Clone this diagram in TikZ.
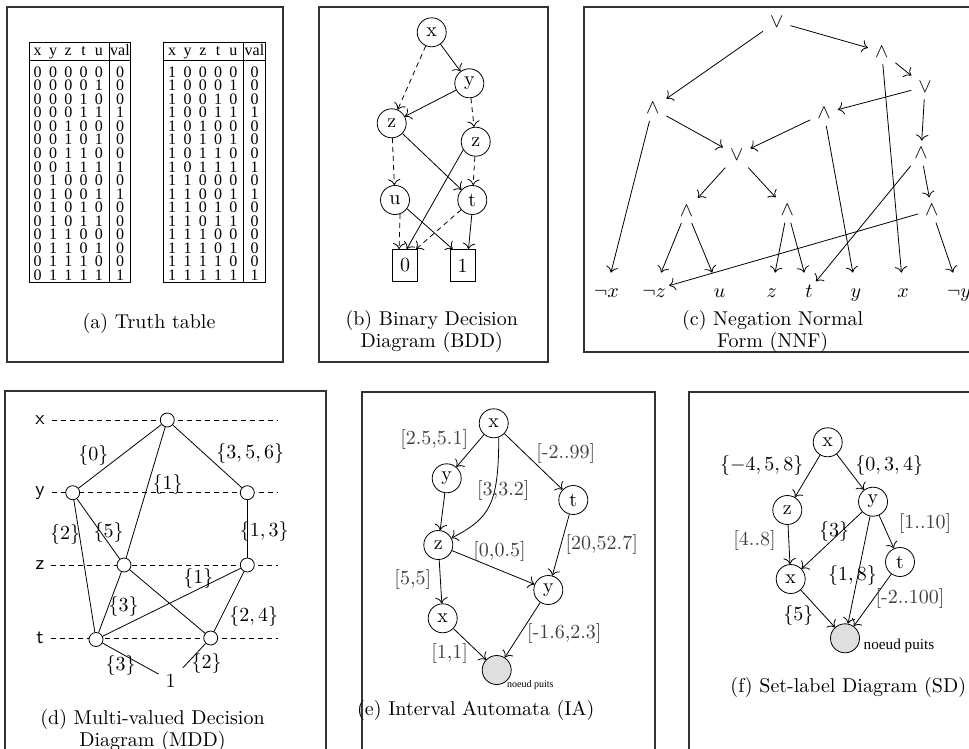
\documentclass[tikz,border=0pt]{standalone}
\usepackage{fontspec}
\newfontfamily\tabfont{Liberation Serif}
\usetikzlibrary{arrows.meta,calc}
\begin{document}
\begin{tikzpicture}[x=0.5pt, y=-0.5pt,
  panel/.style={draw=black!80, line width=0.6pt},
  capt/.style={align=center, font=\fontsize{10}{11}\selectfont},
  arr/.style={-{To[scale=1.2]}},
  dsh/.style={dash pattern=on 2.5pt off 2pt},
  bn/.style={circle, draw, fill=white, minimum size=14.5pt, inner sep=0pt},
  sinknode/.style={circle, draw, fill=gray!25, minimum size=14.5pt, inner sep=0pt},
  term/.style={draw, minimum width=12.5pt, minimum height=16pt, inner sep=0pt},
  mn/.style={circle, draw, fill=white, minimum size=7pt, inner sep=0pt},
  lvl/.style={font=\sffamily},
  op/.style={inner sep=3.33pt},
  leaf/.style={anchor=base, text height=9pt, text depth=2pt, inner xsep=1.5pt, inner ysep=3pt},
  tab/.style={font=\tabfont\fontsize{8}{8.5}\selectfont, inner sep=0pt, anchor=base},
  lab/.style={font=\fontsize{10}{12}\selectfont},
  ilab/.style={lab, text=black!75},
  np/.style={anchor=west, inner sep=0pt}
]
\useasboundingbox (0,0) rectangle (969,749);
\clip (0,0) rectangle (969,749);

% ---------- frames ----------
\draw[panel] (7,7) rectangle (283,362);
\draw[panel] (319,7) rectangle (548,362);
\draw[panel] (584,7) rectangle (985,352);
\draw[panel] (5,391) rectangle (326,770);
\draw[panel] (362,392) rectangle (655,770);
\draw[panel] (689,392) rectangle (985,770);

% ---------- (a) truth tables ----------
\foreach \dx/\tn/\xv in {0/ta/0, 134.5/tb/1} {
  \draw[line width=0.5pt] ({29.3+\dx},42.7) rectangle ({130.7+\dx},282.3);
  \draw[line width=0.5pt] ({29.3+\dx},61) -- ({130.7+\dx},61);
  \draw[line width=0.5pt] ({109.3+\dx},42.7) -- ({109.3+\dx},282.3);
  \node[tab] (\tn-h-1) at ({37.7+\dx},55.5) {x};
  \node[tab] (\tn-h-2) at ({53+\dx},55.5) {y};
  \node[tab] (\tn-h-3) at ({68.3+\dx},55.5) {z};
  \node[tab] (\tn-h-4) at ({83.6+\dx},55.5) {t};
  \node[tab] (\tn-h-5) at ({98.9+\dx},55.5) {u};
  \node[tab] (\tn-h-v) at ({120+\dx},55.5) {val};
  \foreach \r/\v in {0/0,1/0,2/0,3/1,4/0,5/0,6/0,7/1,8/0,9/1,10/0,11/0,12/0,13/0,14/0,15/1} {
    \pgfmathtruncatemacro\by{floor(\r/8)}
    \pgfmathtruncatemacro\bz{mod(floor(\r/4),2)}
    \pgfmathtruncatemacro\bt{mod(floor(\r/2),2)}
    \pgfmathtruncatemacro\bu{mod(\r,2)}
    \pgfmathsetmacro\yy{77.2+\r*13.55}
    \node[tab] (\tn-\r-1) at ({37.7+\dx},\yy) {\xv};
    \node[tab] (\tn-\r-2) at ({53+\dx},\yy) {\by};
    \node[tab] (\tn-\r-3) at ({68.3+\dx},\yy) {\bz};
    \node[tab] (\tn-\r-4) at ({83.6+\dx},\yy) {\bt};
    \node[tab] (\tn-\r-5) at ({98.9+\dx},\yy) {\bu};
    \node[tab] (\tn-\r-v) at ({120+\dx},\yy) {\v};
  }
}
\node[capt] (capa) at (149,323.3) {(a) Truth table};

% ---------- (b) BDD ----------
\node[bn] (bx) at (431.7,32.3) {x};
\node[bn] (by) at (469.3,83.3) {y};
\node[bn] (bzl) at (391.7,123.3) {z};
\node[bn] (bzr) at (475.7,141.7) {z};
\node[bn] (bu) at (395,200) {u};
\node[bn] (bt) at (472.3,200) {t};
\node[term] (b0) at (405,265.5) {0};
\node[term] (b1) at (462.5,265.5) {1};
\draw[arr,dsh] (bx) -- (bzl);
\draw[arr] (bx) -- (by);
\draw[arr] (by) -- (bzl);
\draw[arr,dsh] (by) -- (bzr);
\draw[arr,dsh] (bzl) -- (bu);
\draw[arr] (bzl) -- (bt);
\draw[arr,dsh] (bzr) -- (bt);
\draw[arr] (bzr.213) -- (b0.84);
\draw[arr,dsh] (bu.290) -- (b0.110);
\draw[arr] (bu.324) -- (b1.121);
\draw[arr,dsh] (bt.221) -- (b0.56);
\draw[arr] (bt.268) -- (b1.70);
\node[capt] (capb) at (431.7,331) {(b) Binary Decision\\Diagram (BDD)};

% ---------- (c) NNF ----------
\node[op] (r0) at (776.7,21.7) {$\vee$};
\node[op] (a1) at (881.7,51.7) {$\wedge$};
\node[op] (o2) at (925,86.7) {$\vee$};
\node[op] (a3) at (652.7,108.3) {$\wedge$};
\node[op] (a4) at (824,113.3) {$\wedge$};
\node[op] (o5) at (736.7,155) {$\vee$};
\node[op] (a6) at (921,153.3) {$\wedge$};
\node[op] (a7) at (686.5,210.5) {$\wedge$};
\node[op] (a8) at (787.3,210) {$\wedge$};
\node[op] (a9) at (931.7,210) {$\wedge$};
\node[leaf] (lnx) at (606.5,297) {$\neg x$};
\node[leaf] (lnz) at (654,297) {$\neg z$};
\node[leaf] (lu) at (719.5,297) {$u$};
\node[leaf] (lz) at (771.7,297) {$z$};
\node[leaf] (lt) at (809,297) {$t$};
\node[leaf] (ly) at (856,297) {$y$};
\node[leaf] (lx) at (903,297) {$x$};
\node[leaf] (lny) at (959,297) {$\neg y$};
\draw[arr] (r0) -- (a3);
\draw[arr] (r0) -- (a1);
\draw[arr] (a1) -- (o2);
\draw[arr] (a1) -- (lx);
\draw[arr] (o2) -- (a4);
\draw[arr] (o2) -- (a6);
\draw[arr] (a3) -- (lnx);
\draw[arr] (a3) -- (o5);
\draw[arr] (a4) -- (o5);
\draw[arr] (a4) -- (ly);
\draw[arr] (o5) -- (a7);
\draw[arr] (o5) -- (a8);
\draw[arr] (a6) -- (lt);
\draw[arr] (a6) -- (a9);
\draw[arr] (a7) -- (lnz);
\draw[arr] (a7) -- (lu);
\draw[arr] (a8) -- (lz);
\draw[arr] (a8) -- (lt);
\draw[arr] (a9) -- (lnz);
\draw[arr] (a9) -- (lny);
\node[capt] (capc) at (772.7,331) {(c) Negation Normal\\Form (NNF)};

% ---------- (d) MDD ----------
\node[lvl] (vx) at (40,420) {x};
\node[lvl] (vy) at (40,492.7) {y};
\node[lvl] (vz) at (40,565) {z};
\node[lvl] (vt) at (40,638.3) {t};
\coordinate (ex1) at (278,420);
\coordinate (ey1) at (278,492.7);
\coordinate (ez1) at (278,565);
\coordinate (et1) at (278,638.3);
\draw[dsh] (vx) -- (ex1);
\draw[dsh] (vy) -- (ey1);
\draw[dsh] (vz) -- (ez1);
\draw[dsh] (vt) -- (et1);
\node[mn] (mX) at (167.3,420) {};
\node[mn] (mY1) at (72.7,492.7) {};
\node[mn] (mY2) at (247.3,492.7) {};
\node[mn] (mZ1) at (124,565) {};
\node[mn] (mZ2) at (247.3,565) {};
\node[mn] (mT1) at (96,639.5) {};
\node[mn] (mT2) at (210.7,638) {};
\node (m1) at (170.7,680.8) {1};
\draw (mX) -- (mY1);
\draw (mX) -- (mZ1);
\draw (mX) -- (mY2);
\draw (mY1) -- (mT1);
\draw (mY1) -- (mZ1);
\draw (mY2) -- (mZ2);
\draw (mZ1) -- (mT1);
\draw (mZ1) -- (mT2);
\draw (mZ2) -- (mT1);
\draw (mZ2) -- (mT2);
\draw (mT1) -- (m1);
\draw (mT2) -- (m1);
\node[lab] (d1) at (93.3,455) {$\{0\}$};
\node[lab] (d2) at (167.5,484) {$\{1\}$};
\node[lab] (d3) at (250.3,453.3) {$\{3,5,6\}$};
\node[lab] (d4) at (65,534) {$\{2\}$};
\node[lab] (d5) at (108.7,532.7) {$\{5\}$};
\node[lab] (d6) at (264.2,531.7) {$\{1,3\}$};
\node[lab] (d7) at (198.3,578.3) {$\{1\}$};
\node[lab] (d8) at (123.7,606.7) {$\{3\}$};
\node[lab] (d9) at (253.7,616.7) {$\{2,4\}$};
\node[lab] (d10) at (120.5,665) {$\{3\}$};
\node[lab] (d11) at (206.5,663.3) {$\{2\}$};
\node[capt] (capd) at (152.5,730) {(d) Multi-valued Decision\\Diagram (MDD)};

% ---------- (e) IA ----------
\node[bn] (ex) at (493.7,423.3) {x};
\node[bn] (ey) at (446.7,478.3) {y};
\node[bn] (et) at (573.3,500) {t};
\node[bn] (ez) at (438.3,545) {z};
\node[bn] (ey2) at (548.3,590) {y};
\node[bn] (ex2) at (442.7,618.3) {x};
\node[sinknode] (es) at (496.7,670) {};
\draw[arr] (ex) -- (ey);
\draw[arr] (ex.-70) .. controls (498.5,505) and (490,518) .. (ez);
\draw[arr] (ex) -- (et);
\draw[arr] (ey) -- (ez);
\draw[arr] (ez) -- (ex2);
\draw[arr] (ez) -- (ey2);
\draw[arr] (et) -- (ey2);
\draw[arr] (ex2) -- (es);
\draw[arr] (ey2) -- (es);
\node[ilab] (e1) at (434.2,439.3) {[2.5,5.1]};
\node[ilab] (e2) at (503.3,490) {[3,3.2]};
\node[ilab] (e3) at (565.8,453.3) {[-2..99]};
\node[ilab] (e4) at (601.7,544) {[20,52.7]};
\node[ilab] (e5) at (499.5,551) {[0,0.5]};
\node[ilab] (e6) at (412.8,579.3) {[5,5]};
\node[ilab] (e7) at (564.3,633.3) {[-1.6,2.3]};
\node[ilab] (e8) at (449.7,653.3) {[1,1]};
\node[np, font=\tabfont\fontsize{5}{6}\selectfont] (enp) at (506.7,685) {noeud puits};
\node[capt] (cape) at (475.8,710) {(e) Interval Automata (IA)};

% ---------- (f) SD ----------
\node[bn] (fx) at (827.7,442.3) {x};
\node[bn] (fz) at (787.3,510) {z};
\node[bn] (fy) at (873,501.7) {y};
\node[bn] (ft) at (900,562) {t};
\node[bn] (fx2) at (790.7,579) {x};
\node[sinknode] (fs) at (845,638.3) {};
\draw[arr] (fx) -- (fz);
\draw[arr] (fx) -- (fy);
\draw[arr] (fz) -- (fx2);
\draw[arr] (fy) -- (fx2);
\draw[arr] (fy) -- (fs);
\draw[arr] (fy) -- (ft);
\draw[arr] (ft) -- (fs);
\draw[arr] (fx2) -- (fs);
\node[lab] (f1) at (761.7,465) {$\{-4,5,8\}$};
\node[lab] (f2) at (889.2,465) {$\{0,3,4\}$};
\node[ilab] (f3) at (754.5,540) {[4..8]};
\node[lab] (f4) at (834.2,531.7) {$\{3\}$};
\node[ilab] (f5) at (925,523.3) {[1..10]};
\node[lab] (f6) at (852.5,575) {$\{1,8\}$};
\node[ilab] (f7) at (910,598.3) {[-2..100]};
\node[lab] (f8) at (798.3,615) {$\{5\}$};
\node[np, font=\tabfont\fontsize{7.6}{9}\selectfont] (fnp) at (863.3,646) {noeud puits};
\node[capt] (capf) at (848.3,687.3) {(f) Set-label Diagram (SD)};
\end{tikzpicture}
\end{document}
